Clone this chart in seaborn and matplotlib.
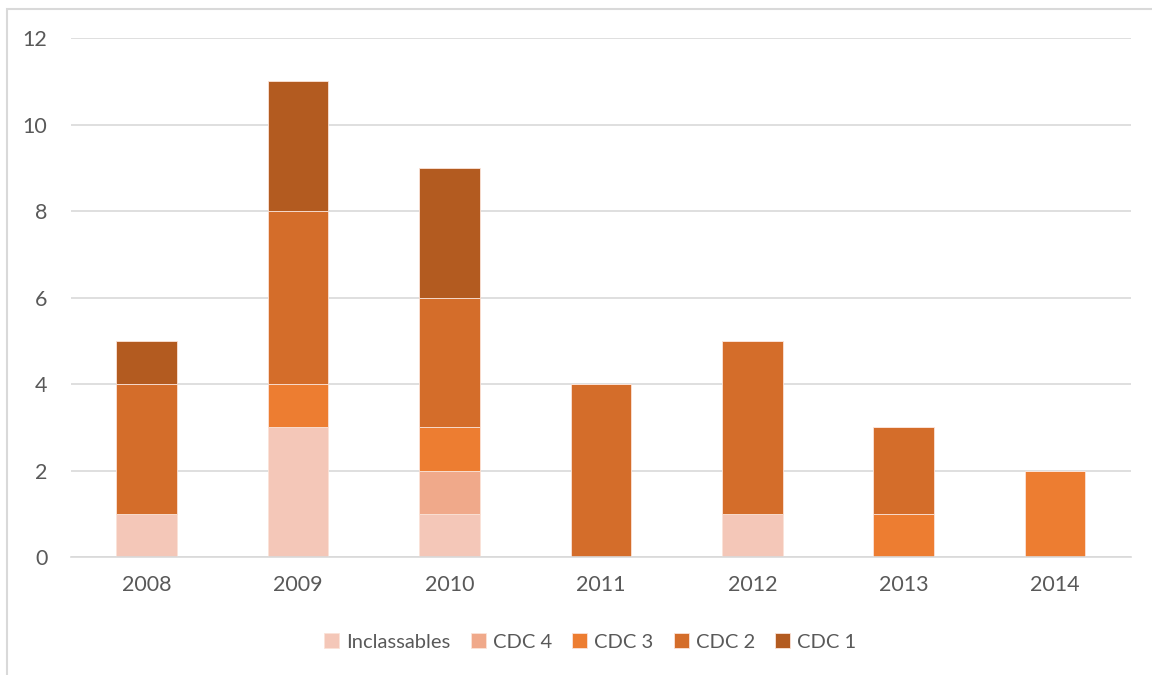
import matplotlib
matplotlib.use("Agg")
import matplotlib.pyplot as plt
import seaborn as sns
import numpy as np
from matplotlib.patches import Rectangle

sns.set_theme(style="white")
plt.rcParams["font.family"] = ["Lato", "DejaVu Sans"]

# DATA
annees = ["2008", "2009", "2010", "2011", "2012", "2013", "2014"]
series = ["Inclassables", "CDC 4", "CDC 3", "CDC 2", "CDC 1"]
inclassables = [1, 3, 1, 0, 1, 0, 0]
cdc4 = [0, 0, 1, 0, 0, 0, 0]
cdc3 = [0, 1, 1, 0, 0, 1, 2]
cdc2 = [3, 4, 3, 4, 4, 2, 0]
cdc1 = [1, 3, 3, 0, 0, 0, 0]
couleurs = ["#F4C7B8", "#F0A98A", "#ED7D31", "#D46D2A", "#B35B20"]

valeurs = [inclassables, cdc4, cdc3, cdc2, cdc1]

fig = plt.figure(figsize=(11.52, 6.75), dpi=100)
ax = fig.add_axes([0.0616, 0.1748, 0.92, 0.7689])

base = np.zeros(len(annees))
for nom, vals, coul in zip(series, valeurs, couleurs):
    sns.barplot(x=annees, y=vals, bottom=base, color=coul, width=0.4,
                ax=ax, label=nom, edgecolor="#FBE3D8", linewidth=0.6,
                saturation=1)
    base = base + np.array(vals)

ax.set_ylim(0, 12)
ax.set_xlim(-0.5, 6.5)
ax.set_yticks(range(0, 13, 2))
ax.yaxis.grid(True, color="#D9D9D9", linewidth=1.2)
ax.set_axisbelow(True)
for s in ["top", "right", "left"]:
    ax.spines[s].set_visible(False)
ax.spines["bottom"].set_color("#D9D9D9")
ax.spines["bottom"].set_linewidth(1.2)
ax.tick_params(axis="both", length=0, labelsize=15.5, labelcolor="#595959")
ax.tick_params(axis="x", pad=13)
ax.tick_params(axis="y", pad=17)

ax.legend(loc="upper center", bbox_to_anchor=(0.49, -0.112), ncol=5, frameon=False,
          fontsize=14.5, labelcolor="#595959", handlelength=0.75, handleheight=0.75,
          handletextpad=0.35, columnspacing=1.0)

fig.patches.append(Rectangle((0.006, -0.05), 1.1, 1.037, transform=fig.transFigure,
                             fill=False, edgecolor="#D9D9D9", linewidth=1.5))

fig.savefig("out.png", dpi=100)
